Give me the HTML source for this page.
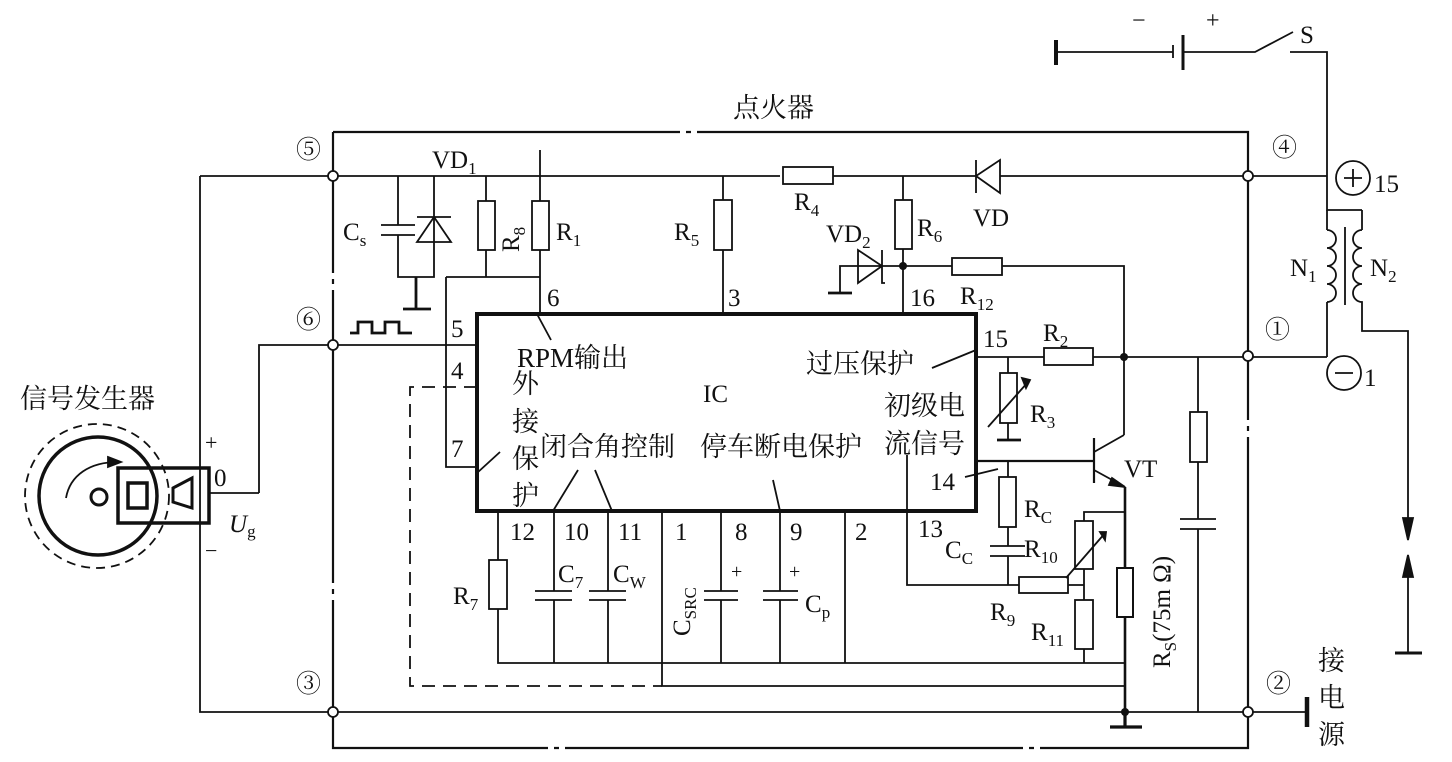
<!DOCTYPE html>
<html><head><meta charset="utf-8"><style>
html,body{margin:0;padding:0;background:#fff}
svg{display:block}
text{font-family:"Liberation Serif","Noto Serif CJK SC",serif;fill:#111}
.cj{font-family:"Liberation Serif","Noto Serif CJK SC","Noto Sans CJK SC",serif;font-size:27px}
</style></head><body>
<svg width="1452" height="762" viewBox="0 0 1452 762" xmlns="http://www.w3.org/2000/svg">
<g stroke="#111" stroke-width="1.8" fill="none">
<path d="M333 132 H680 M686 132 h5 M697 132 H1248 V420 M1248 426 v5 M1248 437 V748 H1040 M1034 748 h-5 M1023 748 H565 M559 748 h-5 M548 748 H333 V600 M333 594 v-5 M333 583 V290 M333 284 v-5 M333 273 V132" stroke-width="2.2"/>
<path d="M200 176 H780 M833 176 H976 M1000 176 H1327"/>
<path d="M200 176 V712 H1248"/>
<path d="M259 493 H209 M259 493 V345 H477"/>
<path d="M1248 712 H1305"/>
<path d="M398 176 V225 M398 235 V277 H434 V176 M381 225 H415 M381 235 H415"/>
<path d="M417 217 H451 M434 217 L417 242 H451 Z"/>
<path d="M416 277 V309 M403 309 H431" stroke-width="2.8"/>
<path d="M486 176 V201 M486 250 V277 M540 150 V201 M540 250 V313 M446 277 H540 M446 277 V467 H477"/>
<rect x="478" y="201" width="17" height="49"/>
<rect x="532" y="201" width="17" height="49"/>
<path d="M477 387 H410 V686 H662" stroke-dasharray="13,8"/>
<path d="M350 333 H358 V322 H372 V333 H385 V322 H399 V333 H412" stroke-width="2.8"/>
<path d="M723 176 V200 M723 250 V313"/>
<rect x="714" y="200" width="18" height="50"/>
<rect x="783" y="167" width="50" height="17"/>
<path d="M976 160 V193 M976 176 L1000 160 V193 Z"/>
<path d="M903 176 V200 M903 249 V313"/>
<rect x="895" y="200" width="17" height="49"/>
<path d="M840 293 V266 H903 M858 250 V283 L882 266 Z M882 250 V283 h3"/>
<path d="M828 293 H852" stroke-width="2.8"/>
<path d="M903 266 H952 M1002 266 H1124 V435"/>
<rect x="952" y="258" width="50" height="17"/>
<path d="M976 357 H1044 M1093 357 H1327 M1327 302 V357"/>
<rect x="1044" y="348" width="49" height="17"/>
<path d="M1008 357 V373 M1008 423 V440"/>
<rect x="1000" y="373" width="17" height="50"/>
<path d="M997 440 H1021" stroke-width="2.8"/>
<path d="M988 427 L1028 382"/>
<path d="M1022 378 L1030 380 L1026 388 Z" fill="#111"/>
<path d="M976 461 H1094 M1094 438 V483" stroke-width="2.2"/>
<path d="M1094 452 L1124 435 M1094 470 L1125 487"/>
<path d="M1112 478 L1125 487 L1109 485 Z" fill="#111"/>
<path d="M1125 487 V712" stroke-width="2.6"/>
<path d="M1008 461 V477 M1008 527 V546 M1008 556 V585 M990 546 H1025 M990 556 H1025"/>
<rect x="999" y="477" width="17" height="50"/>
<path d="M907 511 V585 H1019 M1068 585 H1084 M907 455 V511"/>
<rect x="1019" y="577" width="49" height="16"/>
<path d="M1084 521 V512 H1125 M1084 569 V600 M1084 649 V663"/>
<rect x="1075" y="521" width="18" height="48"/>
<rect x="1075" y="600" width="18" height="49"/>
<path d="M1066 578 L1106 532"/>
<path d="M1100 532 L1106 532 L1105 540 Z" fill="#111"/>
<rect x="1117" y="568" width="16" height="49" fill="#fff" stroke-width="2"/>
<path d="M1198 357 V412 M1198 462 V519 M1198 529 V712 M1180 519 H1216 M1180 529 H1216"/>
<rect x="1190" y="412" width="17" height="50"/>
<path d="M498 511 V560 M498 609 V663 H1125 M554 511 V591 M554 600 V663 M608 511 V591 M608 600 V663 M662 511 V686 H1125 M721 511 V591 M721 600 V663 M780 511 V591 M780 600 V663 M845 511 V663"/>
<rect x="489" y="560" width="18" height="49"/>
<path d="M535 591 H572 M535 600 H572 M589 591 H626 M589 600 H626 M704 591 H738 M704 600 H738 M763 591 H798 M763 600 H798"/>
<path d="M1125 712 V727 M1110 727 H1142" stroke-width="3.2"/>
<path d="M1307 697 V727" stroke-width="4.5"/>
<rect x="477" y="314" width="499" height="197" stroke-width="4"/>
<path d="M537 314 L551 340 M477 473 L500 452 M553 511 L578 470 M612 511 L595 470 M780 511 L773 480 M932 368 L976 350 M965 477 L998 469"/>
<path d="M1056 40 V65" stroke-width="4"/>
<path d="M1056 52 H1173 M1173 45 V58 M1183 52 H1255 L1293 32 M1290 52 H1327 V210 H1362"/>
<path d="M1183 35 V70" stroke-width="3"/>
<path d="M1327 210 V230 M1327 230 a9 9 0 0 1 0 18 a9 9 0 0 1 0 18 a9 9 0 0 1 0 18 a9 9 0 0 1 0 18 V302"/>
<path d="M1362 210 V230 M1362 230 a9 9 0 0 0 0 18 a9 9 0 0 0 0 18 a9 9 0 0 0 0 18 a9 9 0 0 0 0 18 V331 H1408 V538 M1408 557 V653"/>
<path d="M1345 227 V305"/>
<path d="M1403 518 L1408 540 L1413 518 Z M1403 577 L1408 555 L1413 577 Z" fill="#111"/>
<path d="M1395 653 H1422" stroke-width="3"/>
<circle cx="1353" cy="178" r="17"/><path d="M1344 178 H1362 M1353 169 V187"/>
<circle cx="1344" cy="373" r="17"/><path d="M1335 373 H1353"/>
<circle cx="97" cy="496" r="72" stroke-dasharray="9,6"/>
<circle cx="98" cy="496" r="59" stroke-width="3.5"/>
<circle cx="99" cy="497" r="8" stroke-width="3"/>
<rect x="118" y="468" width="91" height="55" stroke-width="3.5"/>
<rect x="128" y="483" width="19" height="25" stroke-width="3.5"/>
<path d="M173 488 L192 478 V508 L173 502 Z" stroke-width="3"/>
<path d="M66 498 C70 475 90 462 118 462"/>
<path d="M108 457 L121 462 L108 467 Z" fill="#111"/>
</g>
<g stroke="#111" stroke-width="1.8" fill="#fff">
<circle cx="333" cy="176" r="5"/><circle cx="333" cy="345" r="5"/><circle cx="333" cy="712" r="5"/>
<circle cx="1248" cy="176" r="5"/><circle cx="1248" cy="356" r="5"/><circle cx="1248" cy="712" r="5"/>
</g>
<g fill="#111"><circle cx="903" cy="266" r="4"/><circle cx="1124" cy="357" r="4"/><circle cx="1125" cy="712" r="4"/></g>
<g font-size="25">
<text x="733" y="117" class="cj">点火器</text>
<text x="296" y="158">⑤</text><text x="1272" y="156">④</text><text x="1265" y="338">①</text><text x="1266" y="692">②</text><text x="296" y="328">⑥</text><text x="296" y="692">③</text>
<text x="432" y="168">VD<tspan font-size="17" dy="6">1</tspan></text>
<text x="343" y="240">C<tspan font-size="17" dy="6">s</tspan></text>
<text x="556" y="240">R<tspan font-size="17" dy="6">1</tspan></text>
<text transform="translate(519,252) rotate(-90)">R<tspan font-size="17" dy="6">8</tspan></text>
<text x="674" y="240">R<tspan font-size="17" dy="6">5</tspan></text>
<text x="794" y="210">R<tspan font-size="17" dy="6">4</tspan></text>
<text x="826" y="242">VD<tspan font-size="17" dy="6">2</tspan></text>
<text x="917" y="236">R<tspan font-size="17" dy="6">6</tspan></text>
<text x="973" y="226">VD</text>
<text x="960" y="304">R<tspan font-size="17" dy="6">12</tspan></text>
<text x="1043" y="341">R<tspan font-size="17" dy="6">2</tspan></text>
<text x="1030" y="422">R<tspan font-size="17" dy="6">3</tspan></text>
<text x="1124" y="477">VT</text>
<text x="1024" y="517">R<tspan font-size="17" dy="6">C</tspan></text>
<text x="945" y="558">C<tspan font-size="17" dy="6">C</tspan></text>
<text x="1024" y="557">R<tspan font-size="17" dy="6">10</tspan></text>
<text x="990" y="620">R<tspan font-size="17" dy="6">9</tspan></text>
<text x="1031" y="640">R<tspan font-size="17" dy="6">11</tspan></text>
<text transform="translate(1170,668) rotate(-90)">R<tspan font-size="17" dy="6">S</tspan><tspan dy="-6">(75m Ω)</tspan></text>
<text x="453" y="604">R<tspan font-size="17" dy="6">7</tspan></text>
<text x="558" y="582">C<tspan font-size="17" dy="6">7</tspan></text>
<text x="613" y="582">C<tspan font-size="17" dy="6">W</tspan></text>
<text transform="translate(690,636) rotate(-90)">C<tspan font-size="17" dy="6">SRC</tspan></text>
<text x="805" y="612">C<tspan font-size="17" dy="6">p</tspan></text>
<text x="731" y="578" font-size="20">+</text><text x="789" y="578" font-size="20">+</text>
<text x="510" y="540">12</text><text x="564" y="540">10</text><text x="618" y="540">11</text><text x="675" y="540">1</text><text x="735" y="540">8</text><text x="790" y="540">9</text><text x="855" y="540">2</text><text x="918" y="537">13</text>
<text x="451" y="337">5</text><text x="451" y="379">4</text><text x="451" y="457">7</text><text x="547" y="306">6</text><text x="728" y="306">3</text><text x="910" y="306">16</text><text x="983" y="347">15</text><text x="930" y="490">14</text>
<text x="517" y="367" class="cj">RPM输出</text>
<text x="703" y="402">IC</text>
<text x="512" y="393" class="cj">外</text><text x="512" y="431" class="cj">接</text><text x="512" y="468" class="cj">保</text><text x="512" y="505" class="cj">护</text>
<text x="540" y="456" class="cj">闭合角控制</text>
<text x="700" y="456" class="cj">停车断电保护</text>
<text x="806" y="373" class="cj">过压保护</text>
<text x="884" y="415" class="cj">初级电</text>
<text x="884" y="453" class="cj">流信号</text>
<text x="1132" y="28" font-size="24">−</text><text x="1206" y="28" font-size="24">+</text><text x="1300" y="43">S</text>
<text x="1374" y="192">15</text><text x="1364" y="386">1</text>
<text x="1290" y="276">N<tspan font-size="17" dy="6">1</tspan></text>
<text x="1370" y="276">N<tspan font-size="17" dy="6">2</tspan></text>
<text x="1318" y="670" class="cj">接</text><text x="1318" y="707" class="cj">电</text><text x="1318" y="744" class="cj">源</text>
<text x="20" y="408" class="cj">信号发生器</text>
<text x="205" y="450" font-size="22">+</text><text x="214" y="486">0</text>
<text x="229" y="532" font-style="italic">U<tspan font-size="17" dy="5" font-style="normal">g</tspan></text>
<text x="205" y="558" font-size="22">−</text>
</g>
</svg>
</body></html>
